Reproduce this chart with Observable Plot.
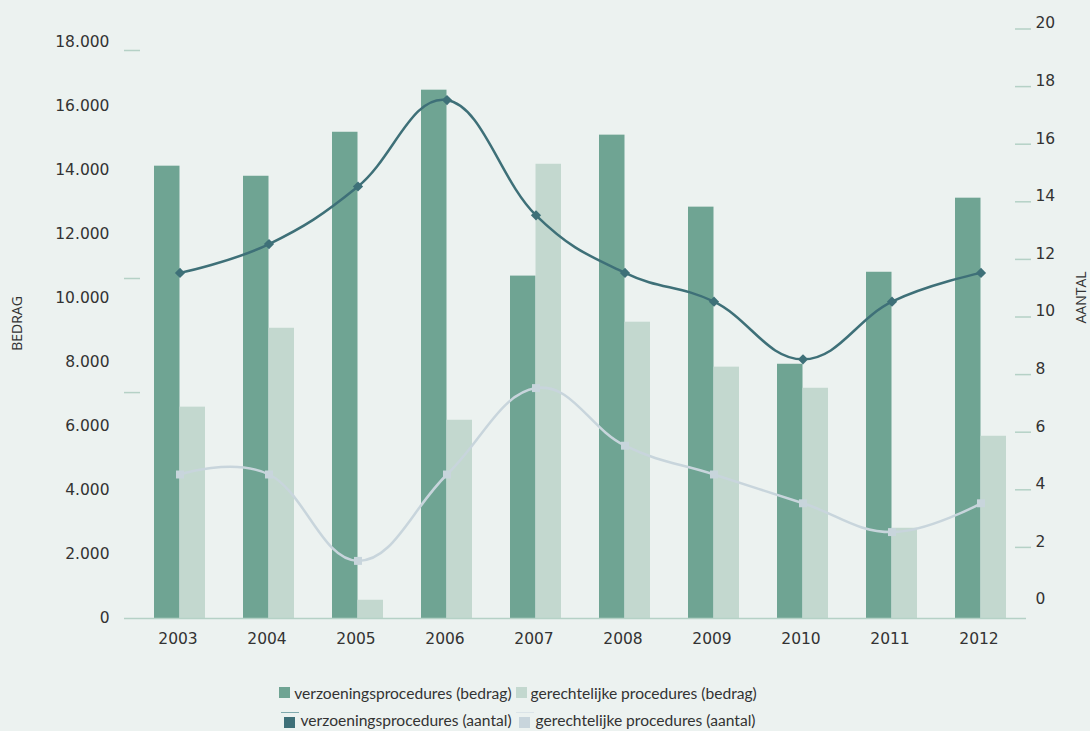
<!DOCTYPE html>
<html>
<head>
<meta charset="utf-8">
<script src="https://cdn.jsdelivr.net/npm/d3@7"></script>
<script src="https://cdn.jsdelivr.net/npm/@observablehq/plot@0.6"></script>
<style>
  html, body { margin: 0; padding: 0; background: #ecf2f0; }
  #chart { position: relative; width: 1090px; height: 731px; background: #ecf2f0; overflow: hidden; }
  #chart svg { position: absolute; left: 0; top: 0; }
  .legend-row { position: absolute; left: 0; width: 1036px; display: flex; justify-content: center; align-items: center;
    font-family: Lato, "Open Sans", sans-serif; font-size: 15.6px; color: #333; white-space: nowrap; }
  .item { display: flex; align-items: center; margin: 0 2px; }
  .sw { width: 11px; height: 11px; margin-right: 4px; }
  .sym { position: relative; width: 18px; height: 16px; margin-right: 2px; }
  .sym .ln { position: absolute; left: 0; top: 0; width: 18px; height: 1.5px; }
  .sym .sq { position: absolute; left: 3.5px; top: 5px; width: 11px; height: 11px; }
</style>
</head>
<body>
<div id="chart"></div>
<script>
// ---- data ----
const years = ["2003","2004","2005","2006","2007","2008","2009","2010","2011","2012"];
const bedragVerzoening = [14135, 13820, 15195, 16510, 10700, 15105, 12855, 7945, 10820, 13135];
const bedragGerechtelijk = [6605, 9070, 570, 6195, 14195, 9260, 7855, 7195, 2820, 5695];
const aantalVerzoening = [12, 13, 15, 18, 14, 12, 11, 9, 11, 12];
const aantalGerechtelijk = [5, 5, 2, 5, 8, 6, 5, 4, 3, 4];
const leftTicks = [0, 2000, 4000, 6000, 8000, 10000, 12000, 14000, 16000, 18000];
const leftMinorTicks = [17750, 10625, 7060];
const rightTicks = [0, 2, 4, 6, 8, 10, 12, 14, 16, 18, 20];
const seriesNames = ["verzoeningsprocedures (bedrag)", "gerechtelijke procedures (bedrag)",
                     "verzoeningsprocedures (aantal)", "gerechtelijke procedures (aantal)"];

// ---- styling ----
const C_DARK_BAR = "#6fa493", C_LIGHT_BAR = "#c3d8cf", C_DARK_LINE = "#3e7078", C_LIGHT_LINE = "#c8d5dc";
const C_TICK = "#b5d1c6", C_TEXT = "#333333";
const TICK_FONT = "DejaVu Sans, Verdana, sans-serif";
const LABEL_FONT = "Liberation Sans Narrow, Open Sans, sans-serif";
const F = 900; // aantal -> bedrag-axis units (secondary axis)

const rows = years.map((year, i) => ({
  year, vb: bedragVerzoening[i], gb: bedragGerechtelijk[i],
  va: aantalVerzoening[i] * F, ga: aantalGerechtelijk[i] * F
}));

const nl = d3.formatLocale({decimal: ",", thousands: ".", grouping: [3], currency: ["€", ""]});
const fmt = nl.format(",");

const plot = Plot.plot({
  width: 1090, height: 660,
  marginLeft: 124, marginRight: 64, marginTop: 10, marginBottom: 42,
  style: {background: "transparent", fontFamily: TICK_FONT, fontSize: "15.5px", color: C_TEXT},
  x: {type: "band", domain: years, paddingInner: 0.429, paddingOuter: 0.265, align: 0.6, axis: null},
  y: {domain: [0, 19000], axis: null},
  marks: [
    Plot.barY(rows, {x: "year", y: "vb", fill: C_DARK_BAR, insetRight: 25.5}),
    Plot.barY(rows, {x: "year", y: "gb", fill: C_LIGHT_BAR, insetLeft: 25.5}),
    Plot.ruleY([0], {stroke: C_TICK, strokeWidth: 1.5}),
    Plot.line(rows, {x: "year", y: "ga", stroke: C_LIGHT_LINE, strokeWidth: 2.5, curve: "cardinal", tension: -0.2}),
    Plot.dot(rows, {x: "year", y: "ga", symbol: "square", fill: C_LIGHT_LINE, r: 4.5}),
    Plot.line(rows, {x: "year", y: "va", stroke: C_DARK_LINE, strokeWidth: 2.5, curve: "cardinal", tension: -0.2}),
    Plot.dot(rows, {x: "year", y: "va", symbol: "diamond2", fill: C_DARK_LINE, r: 4.6}),
    Plot.axisX({tickSize: 0, tickPadding: 14, dx: -2, fill: C_TEXT, fontFamily: TICK_FONT, fontSize: 15.5, label: null}),
    Plot.axisY(leftTicks, {anchor: "left", tickSize: 0, tickPadding: 15, tickFormat: fmt, fill: C_TEXT,
      fontFamily: TICK_FONT, fontSize: 15.5, label: null}),
    Plot.axisY(leftMinorTicks, {anchor: "left", tickSize: 16, tickFormat: () => "", dx: 16,
      stroke: C_TICK, strokeWidth: 1.5, label: null}),
    Plot.axisY(rightTicks.filter(v => v > 0).map(v => v * F), {anchor: "right", tickSize: 16, tickFormat: () => "",
      dx: -12, dy: -13.5, stroke: C_TICK, strokeWidth: 1.5, label: null}),
    Plot.axisY(rightTicks.map(v => v * F), {anchor: "right", tickSize: 0, tickPadding: 9, tickFormat: d => d / F,
      dy: -19, fill: C_TEXT, fontFamily: TICK_FONT, fontSize: 15.5, label: null}),
    Plot.text(["BEDRAG"], {frameAnchor: "left", textAnchor: "middle", rotate: -90, dx: -107, dy: 9,
      fontFamily: LABEL_FONT, fontSize: 14, fill: C_TEXT}),
    Plot.text(["AANTAL"], {frameAnchor: "right", textAnchor: "middle", rotate: -90, dx: 55, dy: -17,
      fontFamily: LABEL_FONT, fontSize: 14, fill: C_TEXT})
  ]
});

const chart = document.getElementById("chart");
chart.appendChild(plot);

// ---- legend ----
const row1 = document.createElement("div");
row1.className = "legend-row"; row1.style.top = "682px"; row1.style.height = "21px";
const row2 = document.createElement("div");
row2.className = "legend-row"; row2.style.top = "709px"; row2.style.height = "21px";

function barItem(name, color) {
  const it = document.createElement("div"); it.className = "item";
  const sw = document.createElement("div"); sw.className = "sw"; sw.style.background = color;
  const t = document.createElement("span"); t.textContent = name;
  it.append(sw, t); return it;
}
function lineItem(name, color, lineColor) {
  const it = document.createElement("div"); it.className = "item";
  const s = document.createElement("div"); s.className = "sym";
  const ln = document.createElement("div"); ln.className = "ln"; ln.style.background = lineColor;
  const sq = document.createElement("div"); sq.className = "sq"; sq.style.background = color;
  s.append(ln, sq);
  const t = document.createElement("span"); t.textContent = name;
  it.append(s, t); return it;
}
row1.append(barItem(seriesNames[0], C_DARK_BAR), barItem(seriesNames[1], C_LIGHT_BAR));
row2.append(lineItem(seriesNames[2], C_DARK_LINE, "#7fa9ad"), lineItem(seriesNames[3], C_LIGHT_LINE, "#dbe4e8"));
chart.append(row1, row2);
</script>
</body>
</html>
